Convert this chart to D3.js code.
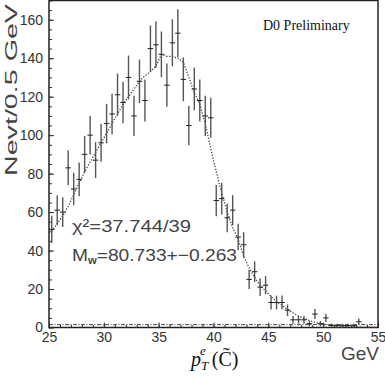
<!DOCTYPE html>
<html><head><meta charset="utf-8">
<script src="https://cdn.jsdelivr.net/npm/d3@7"></script>
<style>html,body{margin:0;padding:0;background:#fff}svg{display:block}</style>
</head><body><svg id="c" width="385" height="382"></svg>
<script>
// bin centres (GeV), 0.5 GeV bins from 25 to 55
const binCenters = d3.range(60).map(i => 25.25 + i * 0.5);
const counts = [51,61,60,83,72,77,90,100,87,96,106,111,121,117,130,110,128,118,145,147,
  142,126,148,153,129,105,124,118,110,109,66,67,57,61,47,43,25,29,21,22,
  13,13,13,9,4,4,4,2,7,2,5,1,1,1,1,1,3,0,0,0];
const errors = [7.1,7.8,7.7,9.1,8.5,8.8,9.5,10,9.3,9.8,10.3,10.5,11,10.8,11.4,10.5,11.3,10.9,12,12.1,
  11.9,11.2,12.2,12.4,11.4,10.2,11.1,10.9,10.5,10.4,8.1,8.2,7.5,7.8,6.9,6.6,5,5.4,4.6,4.7,
  3.6,3.6,3.6,3,2,2,2,1.4,2.6,1.4,2.2,1,1,1,1,1,1.7,0,0,0];
const fitValues = [50,54,58,63,69,75,81,86,91,96,101,106,111,116,120,124,128,131,133,136,
  142,141,141,140,138,130,122,116,106,93,81,70,60,52,46,37,31,26,22,19,
  16,13.5,11.5,9.3,7.6,6,4.6,3.6,2.7,2.1,1.5,1.1,0.8,0.6,0.5,0.4,0.3,0.2,0.2,0.1];
const background = [[25,1.5],[55,1.5]];
const xTicks = [25,30,35,40,45,50,55];
const yTicks = [0,20,40,60,80,100,120,140,160];

const svg = d3.select("#c");
const x = d3.scaleLinear().domain([25,55]).range([49,378]);
const y = d3.scaleLinear().domain([0,170]).range([327.5,0.5]);

// minor ticks
svg.append("g").attr("transform","translate(49,0)")
  .call(d3.axisLeft(y).tickValues(d3.range(0,171,5)).tickSize(-3).tickSizeOuter(0).tickFormat(""))
  .call(g=>{g.select(".domain").remove();g.selectAll("line").attr("stroke","#333");});
svg.append("g").attr("transform","translate(0,327.5)")
  .call(d3.axisBottom(x).tickValues(d3.range(25,56,1)).tickSize(-2.5).tickSizeOuter(0).tickFormat(""))
  .call(g=>{g.select(".domain").remove();g.selectAll("line").attr("stroke","#333");});
// major
const ya = svg.append("g").attr("transform","translate(49,0)")
  .call(d3.axisLeft(y).tickValues(yTicks).tickSize(-5).tickSizeOuter(0).tickPadding(6));
ya.select(".domain").remove();
ya.selectAll("line").attr("stroke","#333");
ya.selectAll("text").attr("font-family","Liberation Sans, Arial, sans-serif").attr("font-size",14).attr("fill","#333");
const xa = svg.append("g").attr("transform","translate(0,327.5)")
  .call(d3.axisBottom(x).tickValues(xTicks).tickSize(-5).tickSizeOuter(0).tickPadding(5));
xa.select(".domain").remove();
xa.selectAll("line").attr("stroke","#333");
xa.selectAll("text").attr("font-family","Liberation Sans, Arial, sans-serif").attr("font-size",14).attr("fill","#333");

// frame
svg.append("rect").attr("x",x(25)).attr("y",y(170)).attr("width",x(55)-x(25)).attr("height",y(0)-y(170))
  .attr("fill","none").attr("stroke","#222").attr("stroke-width",1.5);

// background dash-dot line
svg.append("path").datum(background)
  .attr("d", d3.line().x(d=>x(d[0])).y(d=>y(d[1])))
  .attr("fill","none").attr("stroke","#444").attr("stroke-width",1).attr("stroke-dasharray","4,1.5,1,1.5");

// fit curve
const fitData = binCenters.map((c,i)=>[c,fitValues[i]]);
svg.append("path").datum(fitData)
  .attr("d", d3.line().x(d=>x(d[0])).y(d=>y(d[1])))
  .attr("fill","none").attr("stroke","#444").attr("stroke-width",1.3).attr("stroke-dasharray","1.3,1.6");

// data points with error bars
const pts = binCenters.map((c,i)=>({c, v:counts[i], e:errors[i]})).filter(d=>d.v>0);
const g = svg.append("g");
g.selectAll("line.ev").data(pts).join("line").attr("class","ev")
  .attr("x1",d=>x(d.c)).attr("x2",d=>x(d.c))
  .attr("y1",d=>y(d.v+d.e)).attr("y2",d=>y(Math.max(0,d.v-d.e)))
  .attr("stroke","#555").attr("stroke-width",1.4);
g.selectAll("line.eh").data(pts).join("line").attr("class","eh")
  .attr("x1",d=>x(d.c-0.25)).attr("x2",d=>x(d.c+0.25))
  .attr("y1",d=>y(d.v)).attr("y2",d=>y(d.v))
  .attr("stroke","#222").attr("stroke-width",1);

// texts
const sans = "Liberation Sans, Arial, sans-serif";
svg.append("text").attr("transform","translate(16.5,176) rotate(-90)")
  .attr("font-family",sans).attr("font-size",17).attr("fill","#444")
  .attr("textLength",172).attr("lengthAdjust","spacingAndGlyphs")
  .text("Nevt/0.5 GeV");
svg.append("text").attr("x",72).attr("y",232).attr("font-family",sans).attr("font-size",17).attr("fill","#444")
  .attr("textLength",119).attr("lengthAdjust","spacingAndGlyphs")
  .text("χ²=37.744/39");
const mt = svg.append("text").attr("x",72).attr("y",261).attr("font-family",sans).attr("font-size",17).attr("fill","#444")
  .attr("textLength",165).attr("lengthAdjust","spacingAndGlyphs");
mt.append("tspan").text("M");
mt.append("tspan").attr("font-size",10).attr("font-weight","bold").attr("dy",3).text("w");
mt.append("tspan").attr("dy",-3).text("=80.733+−0.263");
svg.append("text").attr("x",263).attr("y",30).attr("font-family","Liberation Serif, Times New Roman, serif")
  .attr("font-size",14).attr("fill","#111").text("D0 Preliminary");
svg.append("text").attr("x",379).attr("y",360).attr("text-anchor","end").attr("font-family",sans)
  .attr("font-size",19).attr("fill","#444").text("GeV");
const xl = svg.append("text").attr("x",191).attr("y",366).attr("font-family","Liberation Serif, Times New Roman, serif")
  .attr("font-size",20).attr("fill","#111");
xl.append("tspan").attr("font-style","italic").text("p");
xl.append("tspan").attr("font-style","italic").attr("font-size",13).attr("dy",4).text("T");
xl.append("tspan").attr("font-style","italic").attr("font-size",13).attr("dx",-7).attr("dy",-15).text("e");
xl.append("tspan").attr("dy",11).attr("dx",6).text("(C\u0303)");
</script></body></html>
